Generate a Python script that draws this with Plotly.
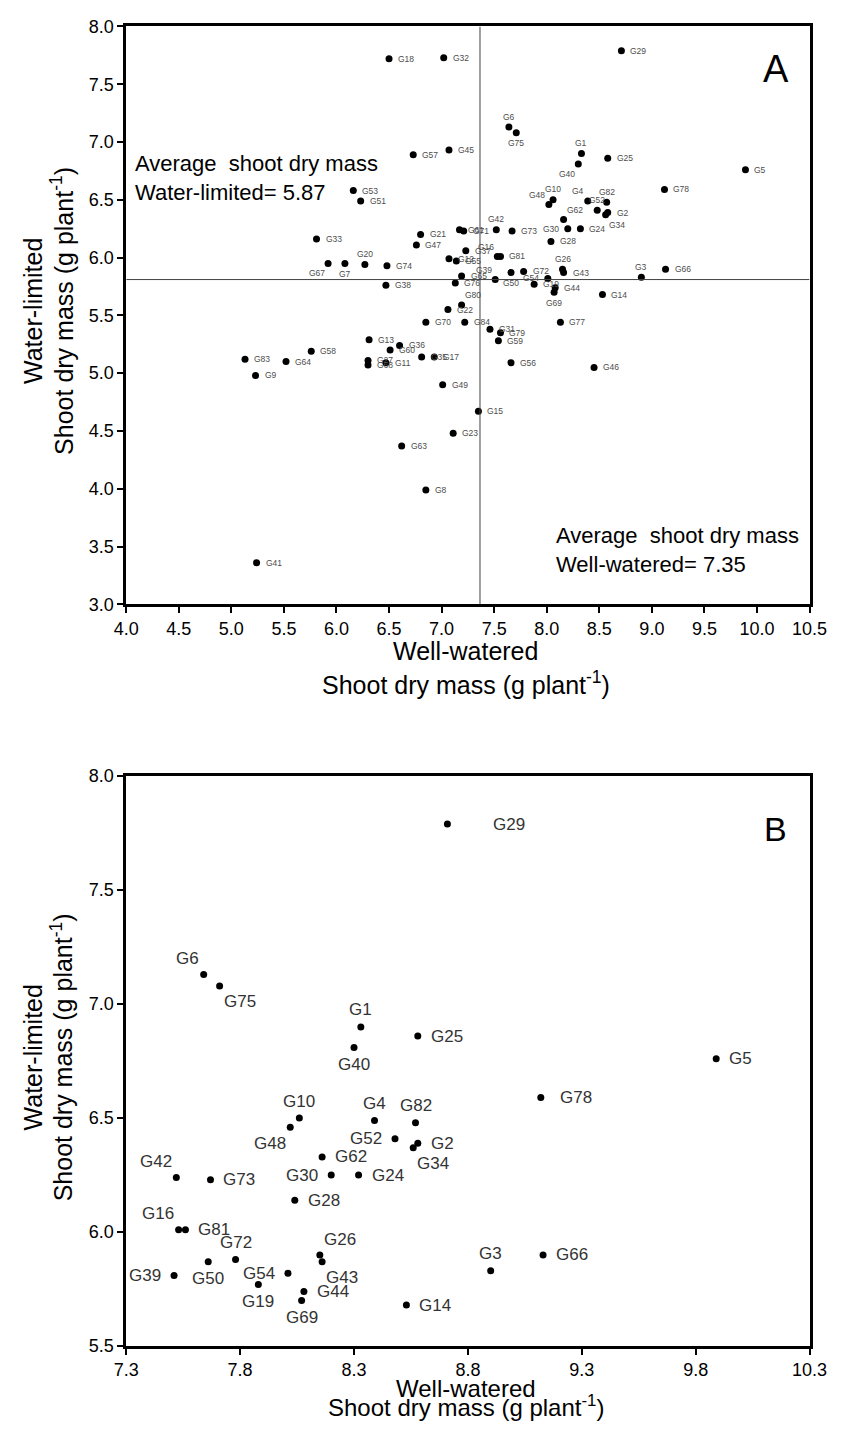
import plotly.graph_objects as go

# ---------------- data ----------------
genotypes = ["G1", "G2", "G3", "G4", "G5", "G6", "G7", "G8", "G9", "G10",
             "G11", "G12", "G13", "G14", "G15", "G16", "G17", "G18", "G19", "G20",
             "G21", "G22", "G23", "G24", "G25", "G26", "G27", "G28", "G29", "G30",
             "G31", "G32", "G33", "G34", "G35", "G36", "G37", "G38", "G39", "G40",
             "G41", "G42", "G43", "G44", "G45", "G46", "G47", "G48", "G49", "G50",
             "G51", "G52", "G53", "G54", "G55", "G56", "G57", "G58", "G59", "G60",
             "G61", "G62", "G63", "G64", "G65", "G66", "G67", "G68", "G69", "G70",
             "G71", "G72", "G73", "G74", "G75", "G76", "G77", "G78", "G79", "G80",
             "G81", "G82", "G83", "G84"]

well_watered = [8.33, 8.58, 8.90, 8.39, 9.89, 7.64, 6.08, 6.85, 5.23, 8.06,
                6.47, 7.07, 6.31, 8.53, 7.35, 7.53, 6.93, 6.50, 7.88, 6.27,
                6.80, 7.06, 7.11, 8.32, 8.58, 8.15, 6.30, 8.04, 8.71, 8.20,
                7.46, 7.02, 5.81, 8.56, 6.81, 6.60, 7.23, 6.47, 7.51, 8.30,
                5.24, 7.52, 8.16, 8.08, 7.07, 8.45, 6.76, 8.02, 7.01, 7.66,
                6.23, 8.48, 6.16, 8.01, 7.14, 7.66, 6.73, 5.76, 7.54, 6.51,
                7.17, 8.16, 6.62, 5.52, 7.19, 9.13, 5.92, 6.30, 8.07, 6.85,
                7.21, 7.78, 7.67, 6.48, 7.71, 7.13, 8.13, 9.12, 7.56, 7.19,
                7.56, 8.57, 5.13, 7.22]

water_limited = [6.90, 6.39, 5.83, 6.49, 6.76, 7.13, 5.95, 3.99, 4.98, 6.50,
                 5.09, 5.99, 5.29, 5.68, 4.67, 6.01, 5.14, 7.72, 5.77, 5.94,
                 6.20, 5.55, 4.48, 6.25, 6.86, 5.90, 5.11, 6.14, 7.79, 6.25,
                 5.38, 7.73, 6.16, 6.37, 5.14, 5.24, 6.06, 5.76, 5.81, 6.81,
                 3.36, 6.24, 5.87, 5.74, 6.93, 5.05, 6.11, 6.46, 4.90, 5.87,
                 6.49, 6.41, 6.58, 5.82, 5.97, 5.09, 6.89, 5.19, 5.28, 5.20,
                 6.24, 6.33, 4.37, 5.10, 5.84, 5.90, 5.95, 5.07, 5.70, 5.44,
                 6.23, 5.88, 6.23, 5.93, 7.08, 5.78, 5.44, 6.59, 5.35, 5.59,
                 6.01, 6.48, 5.12, 5.44]

avg_ww_text = 7.35          # printed average, well-watered
avg_wl_text = 5.87          # printed average, water-limited
ref_line_ww = 7.365         # where the vertical reference line is drawn
ref_line_wl = 5.81          # where the horizontal reference line is drawn

x_ticks_a = [4.0, 4.5, 5.0, 5.5, 6.0, 6.5, 7.0, 7.5, 8.0, 8.5, 9.0, 9.5, 10.0, 10.5]
y_ticks_a = [3.0, 3.5, 4.0, 4.5, 5.0, 5.5, 6.0, 6.5, 7.0, 7.5, 8.0]
x_ticks_b = [7.3, 7.8, 8.3, 8.8, 9.3, 9.8, 10.3]
y_ticks_b = [5.5, 6.0, 6.5, 7.0, 7.5, 8.0]

x_title_lines = ["Well-watered", "Shoot dry mass (g plant<sup>-1</sup>)"]
y_title_lines = ["Water-limited", "Shoot dry mass (g plant<sup>-1</sup>)"]

# ---------------- label placement (style) ----------------
pos_a = {"G6": "t", "G75": "b", "G1": "t", "G10": "t", "G40": "bl", "G4": "tl",
         "G82": "t", "G48": "tl", "G52": "t", "G62": "tr", "G34": "br",
         "G20": "t", "G67": "bl", "G7": "b", "G42": "t", "G26": "t", "G69": "b",
         "G3": "t", "G50": "b", "G16": "tl", "G30": "l", "G39": "tl", "G80": "tr",
         "G19": "r", "G54": "l"}
pos_b = {"G29": "rr", "G6": "tl", "G75": "br", "G1": "t", "G40": "b", "G10": "t",
         "G48": "bl", "G4": "t", "G82": "t", "G52": "l", "G34": "br", "G30": "l",
         "G42": "tl", "G16": "tl", "G26": "tr", "G72": "t", "G54": "l",
         "G43": "br", "G39": "l", "G50": "b", "G19": "b", "G69": "b", "G3": "t",
         "G78": "rr2"}

W, H = 851, 1434
FONT = "Liberation Sans, Arial, sans-serif"


def px(xp):
    return xp / W


def py(yp):
    return 1 - yp / H


xdom = [px(117.5), px(826.7)]
ydom_a = [py(602.7), py(16.7)]
ydom_b = [py(1355), py(777)]

fig = go.Figure()

fig.add_trace(go.Scatter(x=well_watered, y=water_limited, mode="markers",
                         marker=dict(color="black", size=7), xaxis="x", yaxis="y",
                         hoverinfo="text", text=genotypes, showlegend=False))

sub_names, sub_x, sub_y = [], [], []
for n, xv, yv in zip(genotypes, well_watered, water_limited):
    if xv > avg_ww_text and yv >= y_ticks_b[0]:
        sub_names.append(n)
        sub_x.append(xv)
        sub_y.append(yv)

fig.add_trace(go.Scatter(x=sub_x, y=sub_y, mode="markers",
                         marker=dict(color="black", size=7), xaxis="x2", yaxis="y2",
                         hoverinfo="text", text=sub_names, showlegend=False))

annotations = []


def label(name, x, y, pos, xr, yr, size, color, g):
    cfg = {
        "r": ("left", "middle", g, 0),
        "rr": ("left", "middle", g * 4, 0),
        "rr2": ("left", "middle", g * 1.6, 0),
        "l": ("right", "middle", -g, 0),
        "t": ("center", "bottom", 0, g * 0.5),
        "b": ("center", "top", 0, -g * 0.5),
        "tl": ("right", "bottom", -g * 0.2, g * 0.4),
        "tr": ("left", "bottom", g * 0.2, g * 0.4),
        "bl": ("right", "top", -g * 0.2, -g * 0.4),
        "br": ("left", "top", g * 0.2, -g * 0.4),
    }[pos]
    annotations.append(dict(x=x, y=y, xref=xr, yref=yr, text=name, showarrow=False,
                            xanchor=cfg[0], yanchor=cfg[1], xshift=cfg[2], yshift=cfg[3],
                            font=dict(family=FONT, size=size, color=color)))


for n, xv, yv in zip(genotypes, well_watered, water_limited):
    label(n, xv, yv, pos_a.get(n, "r"), "x", "y", 8.5, "#4d4d4d", 7)

for n, xv, yv in zip(sub_names, sub_x, sub_y):
    label(n, xv, yv, pos_b.get(n, "r"), "x2", "y2", 17, "#333333", 11)

# panel letters
annotations.append(dict(x=10.18, y=7.63, xref="x", yref="y", text="A",
                        showarrow=False, font=dict(family=FONT, size=38, color="black")))
annotations.append(dict(x=10.15, y=7.77, xref="x2", yref="y2", text="B",
                        showarrow=False, font=dict(family=FONT, size=34, color="black")))

# average text boxes
annotations.append(dict(x=4.06, y=6.69, xref="x", yref="y", xanchor="left", yanchor="middle",
                        align="left", showarrow=False,
                        text="Average\u00a0 shoot dry mass<br>Water-limited= %.2f" % avg_wl_text,
                        font=dict(family=FONT, size=22, color="black")))
annotations.append(dict(x=8.07, y=3.47, xref="x", yref="y", xanchor="left", yanchor="middle",
                        align="left", showarrow=False,
                        text="Average\u00a0 shoot dry mass<br>Well-watered= %.2f" % avg_ww_text,
                        font=dict(family=FONT, size=22, color="black")))

# axis titles: one annotation per line (page-pixel positions)
title_font = dict(family=FONT, size=25, color="black")
title_font_b = dict(family=FONT, size=24, color="black")
# panel A x title
annotations.append(dict(x=px(470), y=py(650), xref="paper", yref="paper",
                        text=x_title_lines[0], showarrow=False, xanchor="center",
                        yanchor="middle", font=title_font))
annotations.append(dict(x=px(470), y=py(683), xref="paper", yref="paper",
                        text=x_title_lines[1], showarrow=False, xanchor="center",
                        yanchor="middle", font=title_font))
# panel B x title (kept inside the page)
annotations.append(dict(x=px(470), y=py(1398), xref="paper", yref="paper",
                        text=x_title_lines[0], showarrow=False, xanchor="center",
                        yanchor="middle", font=title_font_b))
annotations.append(dict(x=px(470), y=py(1433), xref="paper", yref="paper",
                        text=x_title_lines[1], showarrow=False, xanchor="center",
                        yanchor="bottom", font=title_font_b))
for yc in (305, 1062):
    for txt, col in zip(y_title_lines, (21, 51)):
        annotations.append(dict(x=px(col), y=py(yc), xref="paper", yref="paper", text=txt,
                                showarrow=False, xanchor="center", yanchor="middle",
                                textangle=-90, font=title_font))

shapes = [
    dict(type="line", xref="x", yref="y", x0=ref_line_ww, x1=ref_line_ww,
         y0=y_ticks_a[0], y1=y_ticks_a[-1], line=dict(color="#404040", width=1)),
    dict(type="line", xref="x", yref="y", x0=x_ticks_a[0], x1=x_ticks_a[-1],
         y0=ref_line_wl, y1=ref_line_wl, line=dict(color="#404040", width=1)),
]

axis_common = dict(showgrid=False, zeroline=False, showline=True, linecolor="black",
                   linewidth=2.5, mirror=True, ticks="outside", ticklen=6, tickwidth=2,
                   tickcolor="black", tickfont=dict(family=FONT, size=18, color="black"),
                   tickformat=".1f", ticklabeloverflow="allow")

fig.update_layout(
    width=W, height=H, margin=dict(l=0, r=0, t=0, b=0),
    paper_bgcolor="white", plot_bgcolor="white",
    xaxis=dict(domain=xdom, range=[x_ticks_a[0], x_ticks_a[-1]], tickvals=x_ticks_a,
               anchor="y", **axis_common),
    yaxis=dict(domain=ydom_a, range=[y_ticks_a[0], y_ticks_a[-1]], tickvals=y_ticks_a,
               anchor="x", **axis_common),
    xaxis2=dict(domain=xdom, range=[x_ticks_b[0], x_ticks_b[-1]], tickvals=x_ticks_b,
                anchor="y2", **axis_common),
    yaxis2=dict(domain=ydom_b, range=[y_ticks_b[0], y_ticks_b[-1]], tickvals=y_ticks_b,
                anchor="x2", **axis_common),
    annotations=annotations, shapes=shapes,
)

fig.write_html(
    "out.html", config={"displayModeBar": False},
    post_script=("document.documentElement.style.margin='0';"
                 "document.body.style.margin='0';"
                 "document.documentElement.style.overflow='hidden';"
                 "document.body.style.overflow='hidden';"))
